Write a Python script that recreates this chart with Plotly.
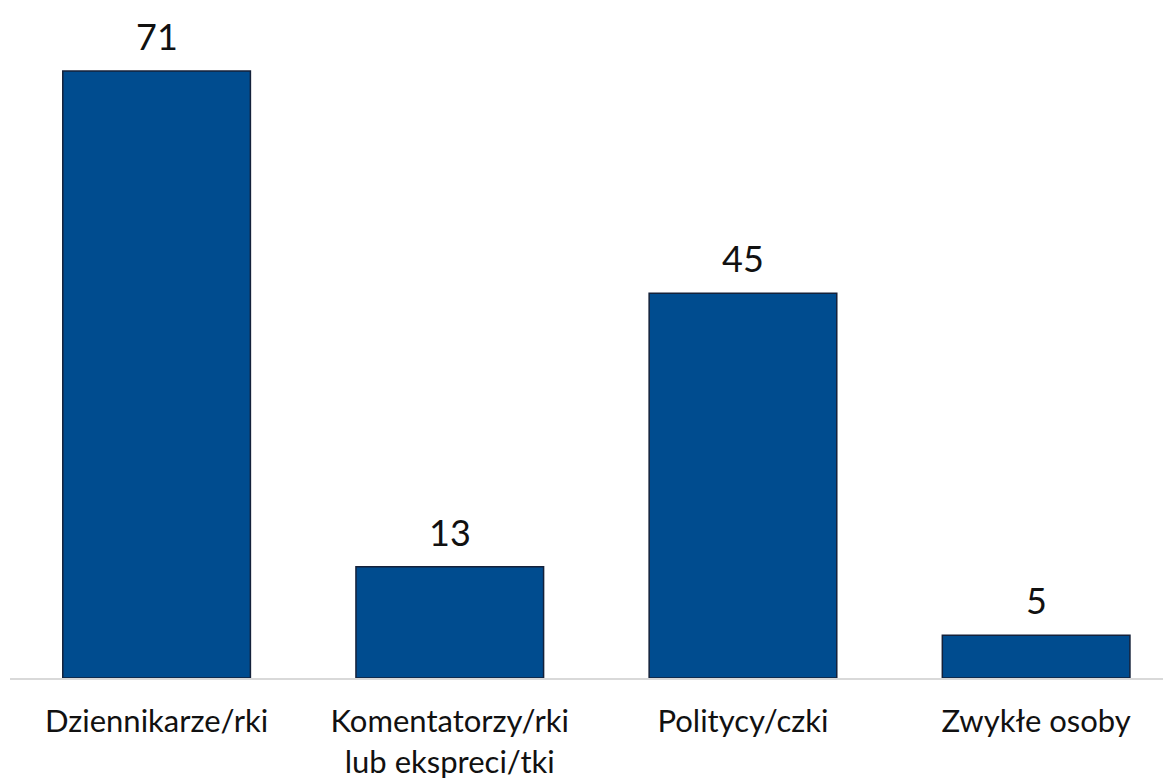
import plotly.graph_objects as go

categories = ["Dziennikarze/rki", "Komentatorzy/rki<br>lub ekspreci/tki", "Politycy/czki", "Zwykłe osoby"]
values = [71, 13, 45, 5]
value_labels = [str(v) for v in values]

FONT = "Lato, sans-serif"

fig = go.Figure(go.Bar(
    x=categories, y=values,
    marker=dict(color="#004C8F", line=dict(color="#14213a", width=1.5)),
    cliponaxis=False,
))
for c, v, t in zip(categories, values, value_labels):
    fig.add_annotation(x=c, y=v, text=t, showarrow=False, yanchor="bottom",
                       yshift=11, font=dict(size=36, color="#111111", family=FONT))
fig.update_layout(
    width=1163, height=772,
    margin=dict(l=2, r=0, t=4, b=98),
    plot_bgcolor="white", paper_bgcolor="white",
    bargap=0.36, showlegend=False,
    font=dict(family=FONT, color="#111111"),
)
fig.update_xaxes(range=[-0.5, 3.46], showline=True, linecolor="#d9d9d9", linewidth=2,
                 ticks="", ticklabelstandoff=15, tickfont=dict(size=31, color="#111111"))
fig.update_yaxes(range=[0, 77.9], visible=False, showgrid=False)
fig.write_html("out.html")
